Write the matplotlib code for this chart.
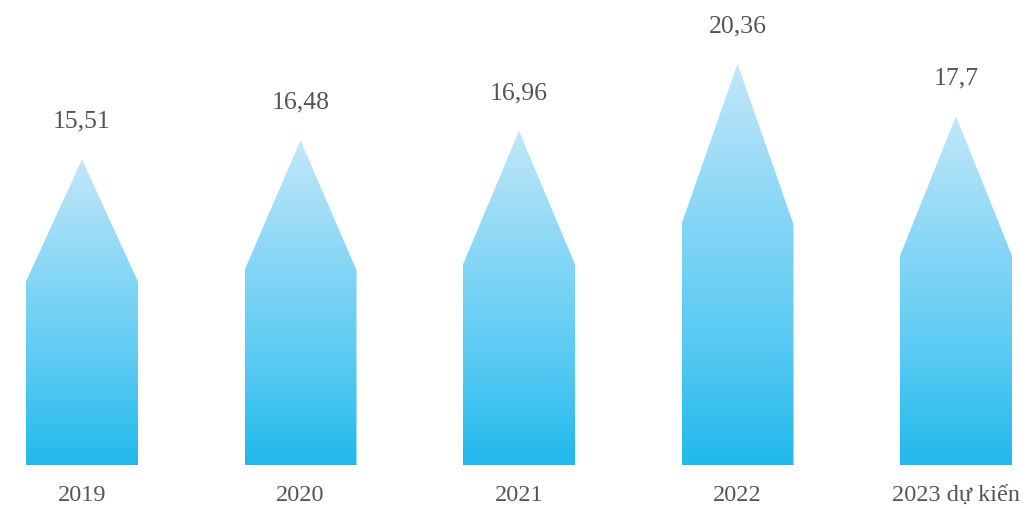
import numpy as np
import matplotlib
matplotlib.use("Agg")
import matplotlib.pyplot as plt
from matplotlib.patches import Polygon
from matplotlib.colors import LinearSegmentedColormap

categories = ["2019", "2020", "2021", "2022", "2023 dự kiến"]
values = [15.51, 16.48, 16.96, 20.36, 17.7]
value_labels = ["15,51", "16,48", "16,96", "20,36", "17,7"]

W, H, DPI = 1021, 507, 100
fig = plt.figure(figsize=(W / DPI, H / DPI), dpi=DPI)
ax = fig.add_axes([0, 0, 1, 1])
ax.set_axis_off()

spacing_px = 218.5
px_per_unit = 19.7
x0_px = 82
base_px = 42  # from bottom

cmap = LinearSegmentedColormap.from_list(
    "g", ["#21b9ec", "#5ccbf3", "#8dd8f6", "#c3e7f9"])
grad = np.linspace(0, 1, 256).reshape(-1, 1)

bw = 112 / spacing_px
shoulder = 0.6
family = ["Liberation Serif", "DejaVu Serif"]

for i, (cat, v, lab) in enumerate(zip(categories, values, value_labels)):
    verts = [(i - bw / 2, 0), (i + bw / 2, 0), (i + bw / 2, v * shoulder),
             (i, v), (i - bw / 2, v * shoulder)]
    poly = Polygon(verts, closed=True, facecolor="none", edgecolor="none")
    ax.add_patch(poly)
    im = ax.imshow(grad, extent=[i - bw / 2, i + bw / 2, 0, v], origin="lower",
                   cmap=cmap, aspect="auto", interpolation="bilinear", zorder=2)
    im.set_clip_path(poly)
    ax.annotate(lab, (i, v), xytext=(0, 27), textcoords="offset points",
                ha="center", va="center", family=family, color="#555555",
                fontsize=18.5)
    ax.annotate(cat, (i, 0), xytext=(0, -22), textcoords="offset points",
                ha="center", va="center", family=family, color="#555555",
                fontsize=17.5)

ax.set_xlim(-x0_px / spacing_px, (W - x0_px) / spacing_px)
ax.set_ylim(-base_px / px_per_unit, (H - base_px) / px_per_unit)
fig.savefig("out.png", dpi=DPI, facecolor="white")
